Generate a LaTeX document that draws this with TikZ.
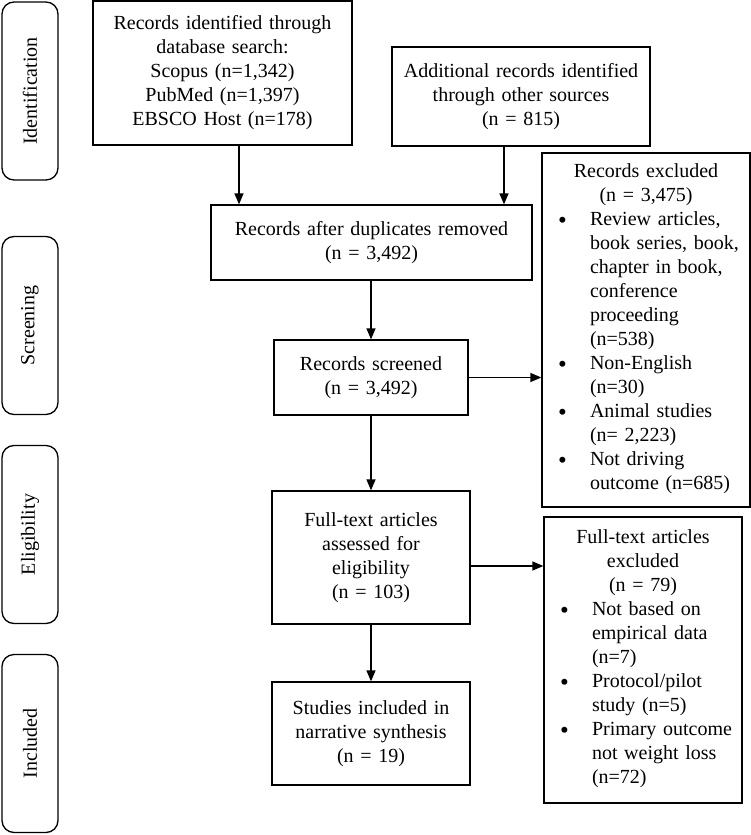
\documentclass[tikz,border=0pt]{standalone}
\usepackage{fontspec}
\setmainfont{Liberation Serif}
\usetikzlibrary{arrows.meta}
\newcommand\bitem[1]{\par\lineskip=0pt\noindent\hspace*{16pt}\makebox[32pt][l]{{\fontsize{25}{24}\selectfont\raisebox{-3pt}{\textbullet}}}\parbox[t]{150pt}{\raggedright\strut #1\strut}\par}
\begin{document}
\begin{tikzpicture}[x=1pt,y=-1pt,
  every node/.style={font=\fontsize{20}{24}\selectfont},
  box/.style={draw, line width=1.3pt, rectangle, inner sep=0pt, align=center},
  listbox/.style={draw, line width=1.3pt, rectangle, inner sep=0pt},
  side/.style={draw, line width=1.3pt, rounded corners=12pt, rotate=90, inner sep=0pt,
               minimum width=178pt, minimum height=56pt},
  arr/.style={line width=1.3pt, -{Triangle[length=11pt,width=9pt]}}]
\useasboundingbox (0,0) rectangle (751,835);

% stage labels
\node[side] (sid) at (30,91) {Identification};
\node[side] (sscr) at (30,325.5) {Screening};
\node[side] (selig) at (30,534.5) {Eligibility};
\node[side] (sinc) at (30,743.5) {Included};

% main boxes
\node[box, minimum width=259pt, minimum height=144pt, text width=250pt] (b1) at (222.5,73)
  {Records identified through\\database search:\\Scopus (n=1,342)\\PubMed (n=1,397)\\EBSCO Host (n=178)};
\node[box, minimum width=258pt, minimum height=99pt, text width=250pt] (b2) at (521,96.5)
  {Additional records identified\\through other sources\\(n = 815)};
\node[box, minimum width=321pt, minimum height=75pt, text width=310pt] (b3) at (371.5,242.5)
  {Records after duplicates removed\\(n = 3,492)};
\node[box, minimum width=194pt, minimum height=75pt, text width=190pt] (b5) at (371,377.5)
  {Records screened\\(n = 3,492)};
\node[box, minimum width=198pt, minimum height=133pt, text width=190pt] (b6) at (371,557.5)
  {Full-text articles\\assessed for\\eligibility\\(n = 103)};
\node[box, minimum width=198pt, minimum height=103pt, text width=190pt] (b8) at (371,733.5)
  {Studies included in\\narrative synthesis\\(n = 19)};

\node[listbox, minimum width=208pt, minimum height=354pt, text width=208pt] (b4) at (646,330)
  {{\centering Records excluded\\(n = 3,475)\par}
   \bitem{Review articles,\\book series, book,\\chapter in book,\\conference\\proceeding\\(n=538)}
   \bitem{Non-English\\(n=30)}
   \bitem{Animal studies\\(n= 2,223)}
   \bitem{Not driving\\outcome (n=685)}};
\node[listbox, minimum width=198pt, minimum height=286pt, text width=198pt] (b7) at (643,660)
  {{\centering Full-text articles\\excluded\\(n = 79)\par}
   \bitem{Not based on\\empirical data\\(n=7)}
   \bitem{Protocol/pilot\\study (n=5)}
   \bitem{Primary outcome\\not weight loss\\(n=72)}};

% connectors
\coordinate (xa) at (239,0);
\coordinate (xb) at (504,0);
\coordinate (ya) at (0,566);
\draw[arr] (b1.south -| xa) -- (b3.north -| xa);
\draw[arr] (b2.south -| xb) -- (b3.north -| xb);
\draw[arr] (b3.south -| b5.north) -- (b5.north);
\draw[arr] (b5.east) -- (b5.east -| b4.west);
\draw[arr] (b5.south) -- (b6.north);
\draw[arr] (b6.east |- ya) -- (b7.west |- ya);
\draw[arr] (b6.south) -- (b8.north);
\end{tikzpicture}
\end{document}
